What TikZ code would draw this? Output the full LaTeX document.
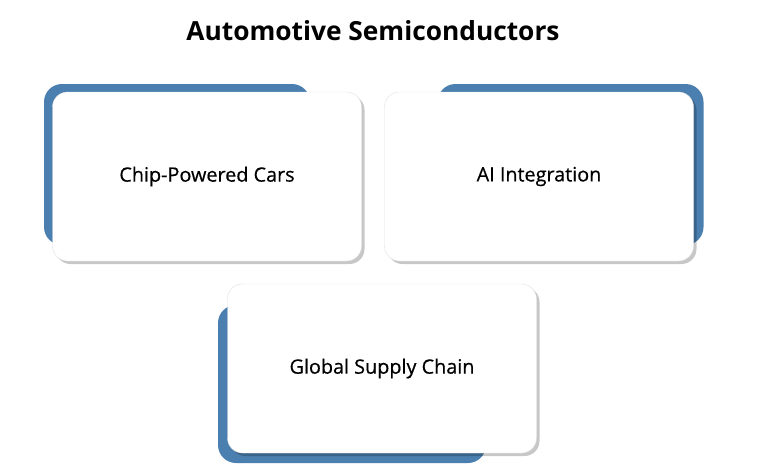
\documentclass[tikz,border=0pt]{standalone}
\usepackage{fontspec}
\setmainfont{Open Sans}
\usetikzlibrary{shadows}
\definecolor{accent}{HTML}{4A7FB0}
\tikzset{
  back/.style={draw=none, fill=accent, rounded corners=18pt, inner sep=0pt},
  card/.style={draw=black!12, line width=0.4pt, fill=white, rounded corners=15pt, inner sep=0pt,
    minimum width=309pt, minimum height=169pt, font=\fontsize{19.8}{23}\selectfont\addfontfeatures{FakeBold=0.5}, text=black,
    drop shadow={shadow xshift=3pt, shadow yshift=-3pt, fill=black, opacity=0.22}},
  title/.style={font=\fontsize{26.3}{30}\selectfont\bfseries, text=black}
}
\begin{document}
\begin{tikzpicture}[x=1pt,y=-1pt]
\useasboundingbox[fill=white] (0,0) rectangle (765,474);
\node[title] (t) at (373,31) {Automotive Semiconductors};
% back shapes
\node[back, minimum width=266pt, minimum height=161pt] (b1) at (177,164.5) {};
\node[back, minimum width=266pt, minimum height=161pt] (b2) at (570.5,164.5) {};
\node[back, minimum width=268pt, minimum height=158pt] (b3) at (352,384) {};
% cards
\node[card] (c1) at (207,176.5) {Chip-Powered Cars};
\node[card] (c2) at (539,176.5) {AI Integration};
\node[card] (c3) at (382,368.5) {Global Supply Chain};
\end{tikzpicture}
\end{document}
